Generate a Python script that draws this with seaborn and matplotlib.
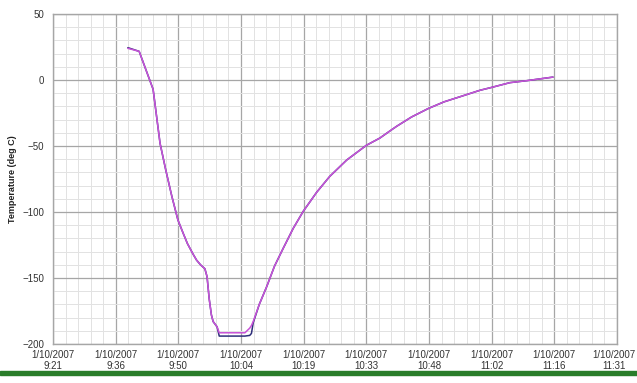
import matplotlib
matplotlib.use("Agg")
import matplotlib.pyplot as plt
import matplotlib.transforms as mtransforms
from matplotlib.patches import Rectangle
from matplotlib.ticker import MultipleLocator, FixedLocator
import numpy as np
import pandas as pd
import seaborn as sns

# время в минутах от полуночи (1/10/2007)
time_min = [578.8, 581.4, 584.6, 586.2, 587.5, 588.9, 589.6, 590.3, 591.5, 592.5,
            593.8, 594.6, 595.5, 596.5, 597.0, 597.5, 598.0, 598.4, 599.3, 599.8,
            605.7, 606.8, 607.2, 607.6, 609.0, 610.7, 612.5, 614.5, 616.8, 619.1,
            622.2, 625.2, 629.1, 633.6, 636.7, 639.5, 640.6, 644.0, 647.9, 651.5,
            655.2, 659.7, 662.4, 666.6, 670.5, 676.5]

temp_a = [24.0, 21.7, -7.0, -48.0, -68.0, -88.0, -97.0, -106.0, -116.0, -124.0,
          -132.0, -136.5, -140.0, -143.0, -149.0, -166.0, -178.0, -183.0, -187.0, -191.5,
          -191.5, -188.0, -186.0, -183.0, -170.0, -156.6, -141.0, -127.5, -112.4, -99.5,
          -85.0, -73.0, -60.6, -49.5, -44.0, -37.5, -35.0, -28.0, -21.5, -16.5,
          -12.6, -7.8, -5.6, -2.0, -0.5, 2.2]

temp_b = [24.5, 21.7, -7.0, -48.0, -68.0, -88.0, -97.0, -106.0, -116.0, -124.0,
          -132.0, -136.5, -140.0, -143.0, -149.0, -166.0, -178.0, -183.0, -187.0, -194.0,
          -194.0, -193.5, -192.0, -184.0, -170.0, -156.6, -141.0, -127.5, -112.4, -99.5,
          -85.0, -73.0, -60.6, -49.5, -44.0, -37.5, -35.0, -28.0, -21.5, -16.5,
          -12.6, -7.8, -5.6, -2.0, -0.5, 2.2]

# метки оси X (шаг 0.01 суток = 14.4 мин)
tick_pos = [561.6 + 14.4 * k for k in range(10)]
tick_labels = ["1/10/2007\n9:21", "1/10/2007\n9:36", "1/10/2007\n9:50",
               "1/10/2007\n10:04", "1/10/2007\n10:19", "1/10/2007\n10:33",
               "1/10/2007\n10:48", "1/10/2007\n11:02", "1/10/2007\n11:16",
               "1/10/2007\n11:31"]

df = pd.DataFrame({"t": time_min, "a": temp_a, "b": temp_b})

sns.set_style("white")
plt.rcParams['font.family'] = ['Liberation Sans', 'DejaVu Sans']

fig = plt.figure(figsize=(6.37, 3.83), dpi=100)
ax = fig.add_axes([53 / 637, 1 - 344 / 383, 564 / 637, 330 / 383])

sns.lineplot(data=df, x="t", y="b", ax=ax, color="#2e2e7a", linewidth=1.1, sort=False)
sns.lineplot(data=df, x="t", y="a", ax=ax, color="#c853d8", linewidth=1.1, sort=False)

ax.set_xlim(tick_pos[0], tick_pos[-1])
ax.set_ylim(-200, 50)
ax.xaxis.set_major_locator(FixedLocator(tick_pos))
ax.xaxis.set_minor_locator(MultipleLocator(14.4 / 5))
ax.set_xticklabels(tick_labels, linespacing=1.05)
ax.yaxis.set_major_locator(MultipleLocator(50))
ax.yaxis.set_minor_locator(MultipleLocator(10))

ax.grid(which="major", color="#a6a6a6", linewidth=0.9)
ax.grid(which="minor", color="#e2e2e2", linewidth=0.7)
ax.set_axisbelow(True)

for s in ax.spines.values():
    s.set_color("#a6a6a6")
    s.set_linewidth(1.0)

ax.tick_params(axis="both", which="major", length=3, color="#a6a6a6",
               labelsize=7, labelcolor="#333333", direction="out")
ax.tick_params(axis="x", which="major", pad=1.5)
ax.tick_params(axis="x", which="minor", length=2, color="#a6a6a6", direction="out")
ax.tick_params(axis="y", which="minor", length=0)

# последняя метка упирается в край — чуть сдвигаем влево
last = ax.get_xticklabels()[-1]
last.set_transform(last.get_transform() +
                   mtransforms.ScaledTranslation(-3 / 100, 0, fig.dpi_scale_trans))

ax.set_xlabel("")
ax.set_ylabel("Temperature (deg C)", fontsize=6.5, fontweight="bold", color="#222222")
ax.yaxis.set_label_coords(-36 / 564, 0.5)

fig.patches.append(Rectangle((0, 1 - 375 / 383), 1, 4 / 383, transform=fig.transFigure,
                             color="#2a7d2a", zorder=5))

fig.savefig("out.png", dpi=100)
